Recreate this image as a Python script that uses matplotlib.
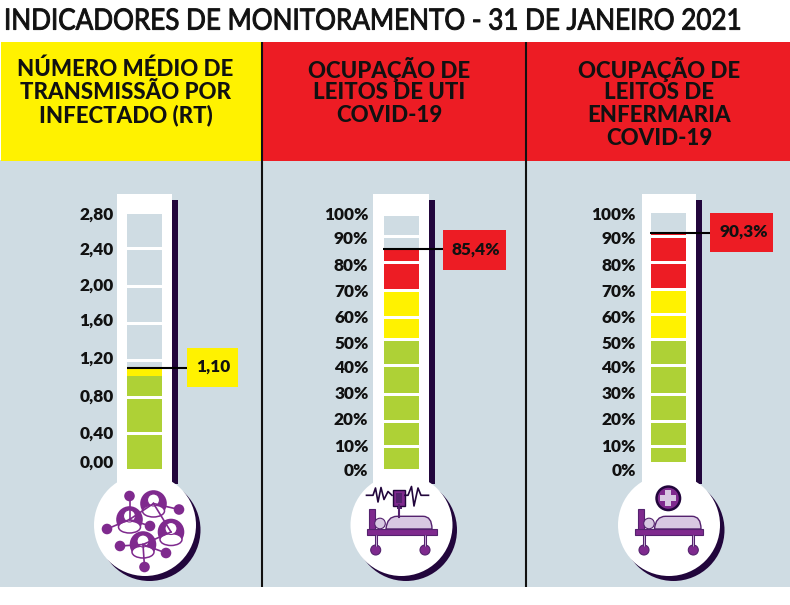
import numpy as np
import matplotlib
matplotlib.use('Agg')
import matplotlib.pyplot as plt
from matplotlib.patches import Circle, Ellipse, Rectangle, PathPatch
from matplotlib.patheffects import AbstractPathEffect
from matplotlib.path import Path
from matplotlib.transforms import Affine2D

plt.rcParams['font.family'] = ['Lato', 'DejaVu Sans']

TITLE = 'INDICADORES DE MONITORAMENTO - 31 DE JANEIRO 2021'

# RT
rt_header = ['NÚMERO MÉDIO DE', 'TRANSMISSÃO POR', 'INFECTADO (RT)']
rt_edges = [0, 0.4, 0.8, 1.2, 1.6, 2.0, 2.4, 2.8]
rt_zones = [(0, 1.0, 'green'), (1.0, 1.2, 'yellow')]
rt_labels = ['0,00', '0,40', '0,80', '1,20', '1,60', '2,00', '2,40', '2,80']
rt_value = 1.10
rt_text = '1,10'

# leitos de UTI
uti_header = ['OCUPAÇÃO DE', 'LEITOS DE UTI', 'COVID-19']
uti_value = 85.4
uti_text = '85,4%'

# leitos de enfermaria
enf_header = ['OCUPAÇÃO DE', 'LEITOS DE', 'ENFERMARIA', 'COVID-19']
enf_value = 90.3
enf_text = '90,3%'

pct_edges = [0, 10, 20, 30, 40, 50, 60, 70, 80, 90, 100]
pct_zones = [(0, 50, 'green'), (50, 70, 'yellow'), (70, 100, 'red')]
pct_labels = ['0%', '10%', '20%', '30%', '40%', '50%', '60%', '70%', '80%', '90%', '100%']

COLORS = {'green': '#aed136', 'yellow': '#fff200', 'red': '#ed1c24'}
BG = '#cfdce3'
DARK = '#22063c'
PURPLE = '#7f2a8e'
LILAC = '#d8c8e2'
MID = '#54226e'


# nao ha fonte condensada instalada, entao o titulo e comprimido na hora de desenhar
class Squeeze(AbstractPathEffect):
    def __init__(self, x0, y0, sx, sy, stroke):
        super().__init__()
        self.squeeze = Affine2D().translate(-x0, -y0).scale(sx, sy).translate(x0, y0)
        self.stroke = stroke

    def draw_path(self, renderer, gc, tpath, affine, rgbFace=None):
        gc0 = renderer.new_gc()
        gc0.copy_properties(gc)
        gc0.set_foreground(rgbFace)
        gc0.set_linewidth(self.stroke)
        renderer.draw_path(gc0, tpath, affine + self.squeeze, rgbFace)
        gc0.restore()


fig = plt.figure(figsize=(7.9, 6.05), dpi=100)
ax = fig.add_axes([0, 0, 1, 1])
ax.set_xlim(0, 790)
ax.set_ylim(605, 0)
ax.axis('off')

ax.add_patch(Rectangle((0, 160), 790, 427, color=BG, lw=0))
title = ax.text(4, 21.5, TITLE, fontsize=19.5, va='center', ha='left', color='#111111')
title_w = title.get_window_extent(fig.canvas.get_renderer()).width
title.set_path_effects([Squeeze(4, 605 - 21.5, 740 / title_w, 1.08, 0.7)])


def header(x0, x1, cx, lines, color):
    ax.add_patch(Rectangle((x0, 42), x1 - x0, 119, color=COLORS[color], lw=0))
    for i, line in enumerate(lines):
        ax.text(cx, 69.5 + i * 23, line, fontsize=16, fontweight='black', ha='center', va='center', color='#111111')


def thermometer(left, right, bulb_x):
    ax.add_patch(Rectangle((right, 200), 6, 284, color=DARK, lw=0))
    ax.add_patch(Circle((bulb_x + 4.5, 530), 51, color=DARK, lw=0))
    ax.add_patch(Circle((bulb_x, 525), 51, color='white', lw=0))
    ax.add_patch(Rectangle((left, 194), right - left, 300, color='white', lw=0))


def gauge(edges, zones, value, pix, x0, x1):
    # a escala do desenho não é regular, cada ponto vem de pix
    vals = sorted(pix)
    scale = lambda v: np.interp(v, vals, [pix[k] for k in vals])
    for lo, hi in zip(edges[:-1], edges[1:]):
        y_lo = scale(lo) - 1.5
        y_hi = scale(hi) + 1.5
        ax.bar((x0 + x1) / 2, y_lo - y_hi, bottom=y_hi, width=x1 - x0, color=BG, lw=0)
        for z_lo, z_hi, name in zones:
            a = max(lo, z_lo)
            b = min(hi, z_hi, value)
            if b <= a:
                continue
            ya = y_lo if a == lo else scale(a)
            yb = y_hi if b == hi else scale(b)
            ax.bar((x0 + x1) / 2, ya - yb, bottom=yb, width=x1 - x0, color=COLORS[name], lw=0)
    return scale(value)


def ticks(labels, ys, x):
    for lab, y in zip(labels, ys):
        ax.text(x, y + 0.8, lab, fontsize=12.4, fontweight='heavy', ha='right', va='center', color='#111111')


def marker(y, x0, box, text, color, text_x):
    bx, by, bw, bh = box
    ax.add_patch(Rectangle((bx, by), bw, bh, color=COLORS[color], lw=0))
    ax.plot([x0, bx], [y, y], color='black', lw=1.5, solid_capstyle='butt')
    ax.text(text_x, by + bh / 2 - 0.5, text, fontsize=12.4, fontweight='heavy', ha='center', va='center',
            color='#111111')


def person(cx, cy, r=13.3):
    ax.add_patch(Circle((cx, cy), r, color=PURPLE, lw=0))
    ax.add_patch(Ellipse((cx, cy + 7.5), 22, 12, fc='white', ec=PURPLE, lw=1.1))
    ax.add_patch(Circle((cx, cy - 3.5), 6, fc='white', ec=PURPLE, lw=0.8))


def network():
    people = [(153.5, 503.5), (129.5, 519.5), (171, 532), (143, 544.5)]
    nodes = [(129.5, 496), (179, 509.5), (107, 529), (150, 526), (120, 546), (166, 553), (144.5, 567)]
    for a, b in [(1, 0), (0, 1), (1, 2), (1, 3), (3, 4), (3, 5), (3, 6)]:
        ax.plot([people[a][0], nodes[b][0]], [people[a][1], nodes[b][1]], color=PURPLE, lw=1.2)
    for a, b in [(0, 1), (0, 2), (2, 3)]:
        ax.plot([people[a][0], people[b][0]], [people[a][1], people[b][1]], color=PURPLE, lw=1.2)
    for p in people:
        person(*p)
    for n in nodes:
        ax.add_patch(Circle(n, 5.3, color=PURPLE, lw=0))


def bed(x0, x1, board_x, head_x, body_x0, body_x1, wheel_l, wheel_r):
    # cabeceira, cabeca, corpo, estrado, rodas
    ax.add_patch(Rectangle((board_x, 508.5), 5.5, 21, fc=PURPLE, ec=MID, lw=0.8))
    ax.add_patch(Circle((head_x, 523.5), 5.3, fc=LILAC, ec=MID, lw=0.8))
    verts = [(body_x0, 529), (body_x0 + 1, 516.3), (body_x0 + 11, 516.3), (body_x1 - 9, 516.3),
             (body_x1, 516.3), (body_x1, 529), (body_x0, 529)]
    codes = [Path.MOVETO, Path.CURVE3, Path.CURVE3, Path.LINETO, Path.CURVE3, Path.CURVE3, Path.CLOSEPOLY]
    ax.add_patch(PathPatch(Path(verts, codes), fc=LILAC, ec=MID, lw=1))
    ax.add_patch(Rectangle((x0, 529), x1 - x0, 6, fc=PURPLE, ec=MID, lw=0.8))
    for w in (wheel_l, wheel_r):
        ax.plot([w, w], [535, 546], color=MID, lw=2.2, solid_capstyle='butt')
        ax.plot([w, w], [535, 546], color=LILAC, lw=0.6, solid_capstyle='butt')
        ax.add_patch(Circle((w, 550), 5, fc=PURPLE, ec=MID, lw=0.8))


def monitor():
    left_x = [366.5, 373, 375.5, 378, 381, 384, 388, 392]
    left_y = [495.3, 495.3, 488, 502, 487.5, 499.5, 491.5, 495.3]
    right_x = [405, 408, 411.5, 414, 418, 421, 424, 428.5]
    right_y = [495.3, 495.3, 486.5, 506, 488, 495.3, 495.3, 495.3]
    ax.plot(left_x, left_y, color=DARK, lw=1.2)
    ax.plot(right_x, right_y, color=DARK, lw=1.2)
    ax.plot([399, 399], [505, 517], color=MID, lw=1.5)
    ax.add_patch(Rectangle((396.5, 505), 5, 4, color=MID, lw=0))
    ax.add_patch(Rectangle((393, 490), 12, 15.5, fc=PURPLE, ec=DARK, lw=1))
    ax.add_patch(Rectangle((396, 493), 6, 9.5, color=MID, lw=0))


def cross(cx, cy):
    ax.add_patch(Circle((cx, cy), 13, color=DARK, lw=0))
    ax.add_patch(Circle((cx, cy), 10.5, color=PURPLE, lw=0))
    ax.add_patch(Rectangle((cx - 3, cy - 8), 6, 16, color=LILAC, lw=0))
    ax.add_patch(Rectangle((cx - 8, cy - 3), 16, 6, color=LILAC, lw=0))


header(1, 262, 125.5, rt_header, 'yellow')
header(262, 526, 389, uti_header, 'red')
header(526, 790, 659.5, enf_header, 'red')

for x in (262, 525.7):
    ax.plot([x, x], [42, 587], color='#111111', lw=1.5, solid_capstyle='butt')

# painel 1
thermometer(117, 172, 145)
y = gauge(rt_edges, rt_zones, rt_value, {0: 470.5, 0.4: 433, 0.8: 397.5, 1.0: 375.5, 1.1: 368, 1.2: 360.5, 1.6: 323.5,
                                         2.0: 286, 2.4: 248.5, 2.8: 212.5}, 127, 162)
ticks(rt_labels, [462, 433, 396, 358, 320, 285, 249, 214], 113.5)
marker(y, 127, (187, 348, 51, 39), rt_text, 'yellow', 213)
network()

# painel 2
thermometer(373, 429, 401.5)
y = gauge(pct_edges, pct_zones, uti_value, {0: 470.5, 10: 446, 20: 421, 30: 394.5, 40: 365.5, 50: 339, 60: 317.5, 70: 290.5,
                                            80: 262.5, 85.4: 248.5, 90: 236.5, 100: 214.5}, 384, 419)
ticks(pct_labels, [470, 446, 419, 393, 367, 343, 317, 291, 265, 238, 214], 368.5)
marker(y, 383, (443, 230, 63, 40), uti_text, 'red', 475.5)
monitor()
bed(366.5, 436.5, 369, 380, 386, 432, 375.7, 425)

# painel 3
thermometer(642, 696, 669)
y = gauge(pct_edges, pct_zones, enf_value, {0: 463.5, 10: 446, 20: 421, 30: 394.5, 40: 365.5, 50: 339, 60: 314, 70: 289.5,
                                            80: 262.5, 90: 236.5, 90.3: 232.7, 100: 211.5}, 651, 686)
ticks(pct_labels, [470, 446, 419, 393, 367, 343, 317, 291, 265, 238, 214], 636)
marker(y, 650, (710, 213, 63, 39), enf_text, 'red', 744)
cross(668.3, 498.3)
bed(635, 702.5, 638.3, 649, 654.5, 701, 644, 693.3)

fig.savefig('out.png', dpi=100)
